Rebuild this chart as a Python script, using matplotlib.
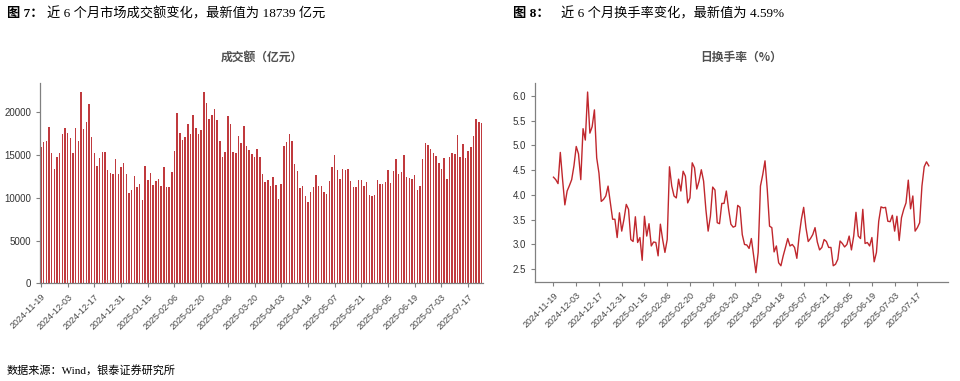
import matplotlib
matplotlib.use("Agg")
import matplotlib.pyplot as plt
import pandas as pd

# 交易日（2024-11-19 至 2025-07-24），剔除节假日
start_date = "2024-11-19"
end_date = "2025-07-24"
holidays = ["2025-01-01", "2025-01-28", "2025-01-29", "2025-01-30", "2025-01-31",
            "2025-02-03", "2025-02-04", "2025-04-04", "2025-05-01", "2025-05-02",
            "2025-05-05", "2025-06-02"]

# 成交额（亿元）
turnover = [
    15900, 16500, 16600, 18300, 15200, 13300, 14800, 15200, 17500, 18200,
    17600, 17000, 15200, 18100, 16600, 22300, 18000, 18800, 20900, 17100,
    15200, 13700, 14600, 15300, 15400, 13200, 12900, 12800, 14500, 12800,
    13600, 14100, 12800, 10600, 10900, 12500, 11300, 11600, 9700, 13700,
    12100, 12900, 11500, 12000, 12200, 11400, 13600, 11200, 11300, 13000,
    15500, 19900, 17600, 16800, 17100, 18600, 17500, 19700, 18200, 17500,
    17900, 22300, 21100, 19200, 19700, 20400, 19100, 16600, 14800, 15400,
    19500, 18600, 15400, 15200, 17200, 16400, 18400, 16100, 15600, 15100,
    14800, 15700, 14700, 12800, 11800, 12100, 11400, 12400, 11500, 9900,
    11600, 16100, 16500, 17400, 16600, 13900, 13100, 11100, 11400, 10200,
    9500, 10700, 11200, 12600, 11400, 11400, 10700, 10400, 11900, 13600,
    15000, 13200, 12200, 13400, 13200, 13400, 11900, 11200, 11200, 12100,
    12100, 11400, 11800, 10300, 10200, 10300, 12100, 11600, 11600, 11800,
    13200, 11700, 13100, 14500, 12800, 13000, 15000, 12400, 12300, 12200,
    12700, 10900, 11400, 14500, 16400, 16200, 15700, 15200, 14900, 14000,
    13300, 14600, 12200, 14700, 15200, 15100, 17300, 14800, 16300, 14600,
    15500, 15900, 17200, 19200, 18900, 18739,
]

# 日换手率（%）
turnover_rate = [
    4.36, 4.31, 4.23, 4.86, 4.31, 3.80, 4.08, 4.19, 4.31, 4.59,
    4.98, 4.83, 4.31, 5.34, 5.11, 6.08, 5.25, 5.38, 5.72, 4.75,
    4.44, 3.87, 3.91, 3.98, 4.18, 3.84, 3.51, 3.51, 3.14, 3.64,
    3.27, 3.51, 3.81, 3.71, 3.10, 3.06, 3.56, 3.04, 3.14, 2.68,
    3.57, 3.17, 3.42, 2.97, 3.05, 3.04, 2.77, 3.41, 3.10, 2.84,
    3.10, 4.57, 4.18, 3.98, 3.94, 4.32, 4.08, 4.48, 4.38, 3.84,
    3.94, 4.65, 4.55, 4.12, 4.28, 4.51, 4.28, 3.71, 3.27, 3.57,
    4.16, 4.10, 3.44, 3.42, 3.83, 3.83, 4.08, 3.71, 3.41, 3.35,
    3.37, 3.79, 3.75, 3.20, 3.00, 2.99, 2.92, 3.12, 2.77, 2.43,
    2.84, 4.18, 4.41, 4.69, 4.11, 3.37, 3.34, 2.85, 2.97, 2.63,
    2.57, 2.77, 2.94, 3.12, 2.97, 3.00, 2.94, 2.72, 3.17, 3.51,
    3.75, 3.34, 3.06, 3.12, 3.20, 3.34, 3.05, 2.89, 2.94, 3.10,
    3.06, 2.94, 2.94, 2.57, 2.60, 2.70, 3.07, 3.02, 2.95, 3.00,
    3.17, 2.89, 3.17, 3.65, 3.17, 3.12, 3.71, 3.02, 3.04, 2.97,
    3.14, 2.65, 2.84, 3.47, 3.76, 3.74, 3.75, 3.47, 3.46, 3.59,
    3.27, 3.57, 3.08, 3.54, 3.71, 3.84, 4.30, 3.72, 3.98, 3.27,
    3.34, 3.44, 4.18, 4.57, 4.67, 4.59,
]

dates = [d for d in pd.bdate_range(start_date, end_date)
         if d.strftime("%Y-%m-%d") not in holidays]
labels = [d.strftime("%Y-%m-%d") for d in dates]
x = list(range(len(dates)))
ticks = x[::10]

plt.rcParams["font.family"] = ["Liberation Sans", "Noto Sans CJK SC", "DejaVu Sans"]
CJK = ["Noto Sans CJK SC", "DejaVu Sans"]
SERIF = ["Liberation Serif", "Noto Sans CJK SC"]
BAR = "#c03a3e"
LINE = "#c0272d"
GRAY = "#808080"

fig = plt.figure(figsize=(9.6, 3.81), dpi=100)
ax1 = fig.add_axes([0.0417, 0.2564, 0.4615, 0.526])
ax2 = fig.add_axes([0.557, 0.2606, 0.430, 0.5215])


def style(ax):
    for s in ("top", "right"):
        ax.spines[s].set_visible(False)
    for s in ("left", "bottom"):
        ax.spines[s].set_color(GRAY)
        ax.spines[s].set_linewidth(0.9)
    ax.tick_params(axis="both", colors=GRAY, length=3, width=0.8,
                   labelsize=7, labelcolor="#333333")
    ax.set_xticks(ticks)
    ax.set_xticklabels([labels[t] for t in ticks], rotation=45, ha="right",
                       rotation_mode="anchor", fontsize=6.5, color="#444444")


# 成交额 -----------------------------------------------------------------
ax1.bar(x, turnover, width=0.56, color=BAR, linewidth=0)
ax1.set_xlim(-0.35, 165.6)
ax1.set_yticks([0, 5000, 10000, 15000, 20000])
style(ax1)
ax1.set_title("成交额（亿元）", family=CJK, fontsize=8.5, fontweight="bold",
              color="#505050", pad=16)

# 换手率 -----------------------------------------------------------------
ax2.plot(x, turnover_rate, color=LINE, linewidth=1.0)
ax2.set_yticks([2.5, 3.0, 3.5, 4.0, 4.5, 5.0, 5.5, 6.0])
ax2.set_yticklabels(["2.5", "3.0", "3.5", "4.0", "4.5", "5.0", "5.5", "6.0"])
style(ax2)
ax2.set_title("日换手率（%）", family=CJK, fontsize=8.5, fontweight="bold",
              color="#505050", pad=16)

# 图注 -------------------------------------------------------------------
fig.text(7 / 960, 1 - 14 / 381, "图 7：", family=SERIF, fontweight="bold",
         fontsize=9.5, va="center")
fig.text(47 / 960, 1 - 14 / 381, "近 6 个月市场成交额变化，最新值为 18739 亿元",
         family=SERIF, fontsize=9.5, va="center")
fig.text(513 / 960, 1 - 14 / 381, "图 8：", family=SERIF, fontweight="bold",
         fontsize=9.5, va="center")
fig.text(561 / 960, 1 - 14 / 381, "近 6 个月换手率变化，最新值为 4.59%",
         family=SERIF, fontsize=9.5, va="center")
fig.text(7 / 960, 1 - 370 / 381, "数据来源：Wind，银泰证券研究所",
         family=SERIF, fontsize=8, va="center")

fig.savefig("out.png", dpi=100)
